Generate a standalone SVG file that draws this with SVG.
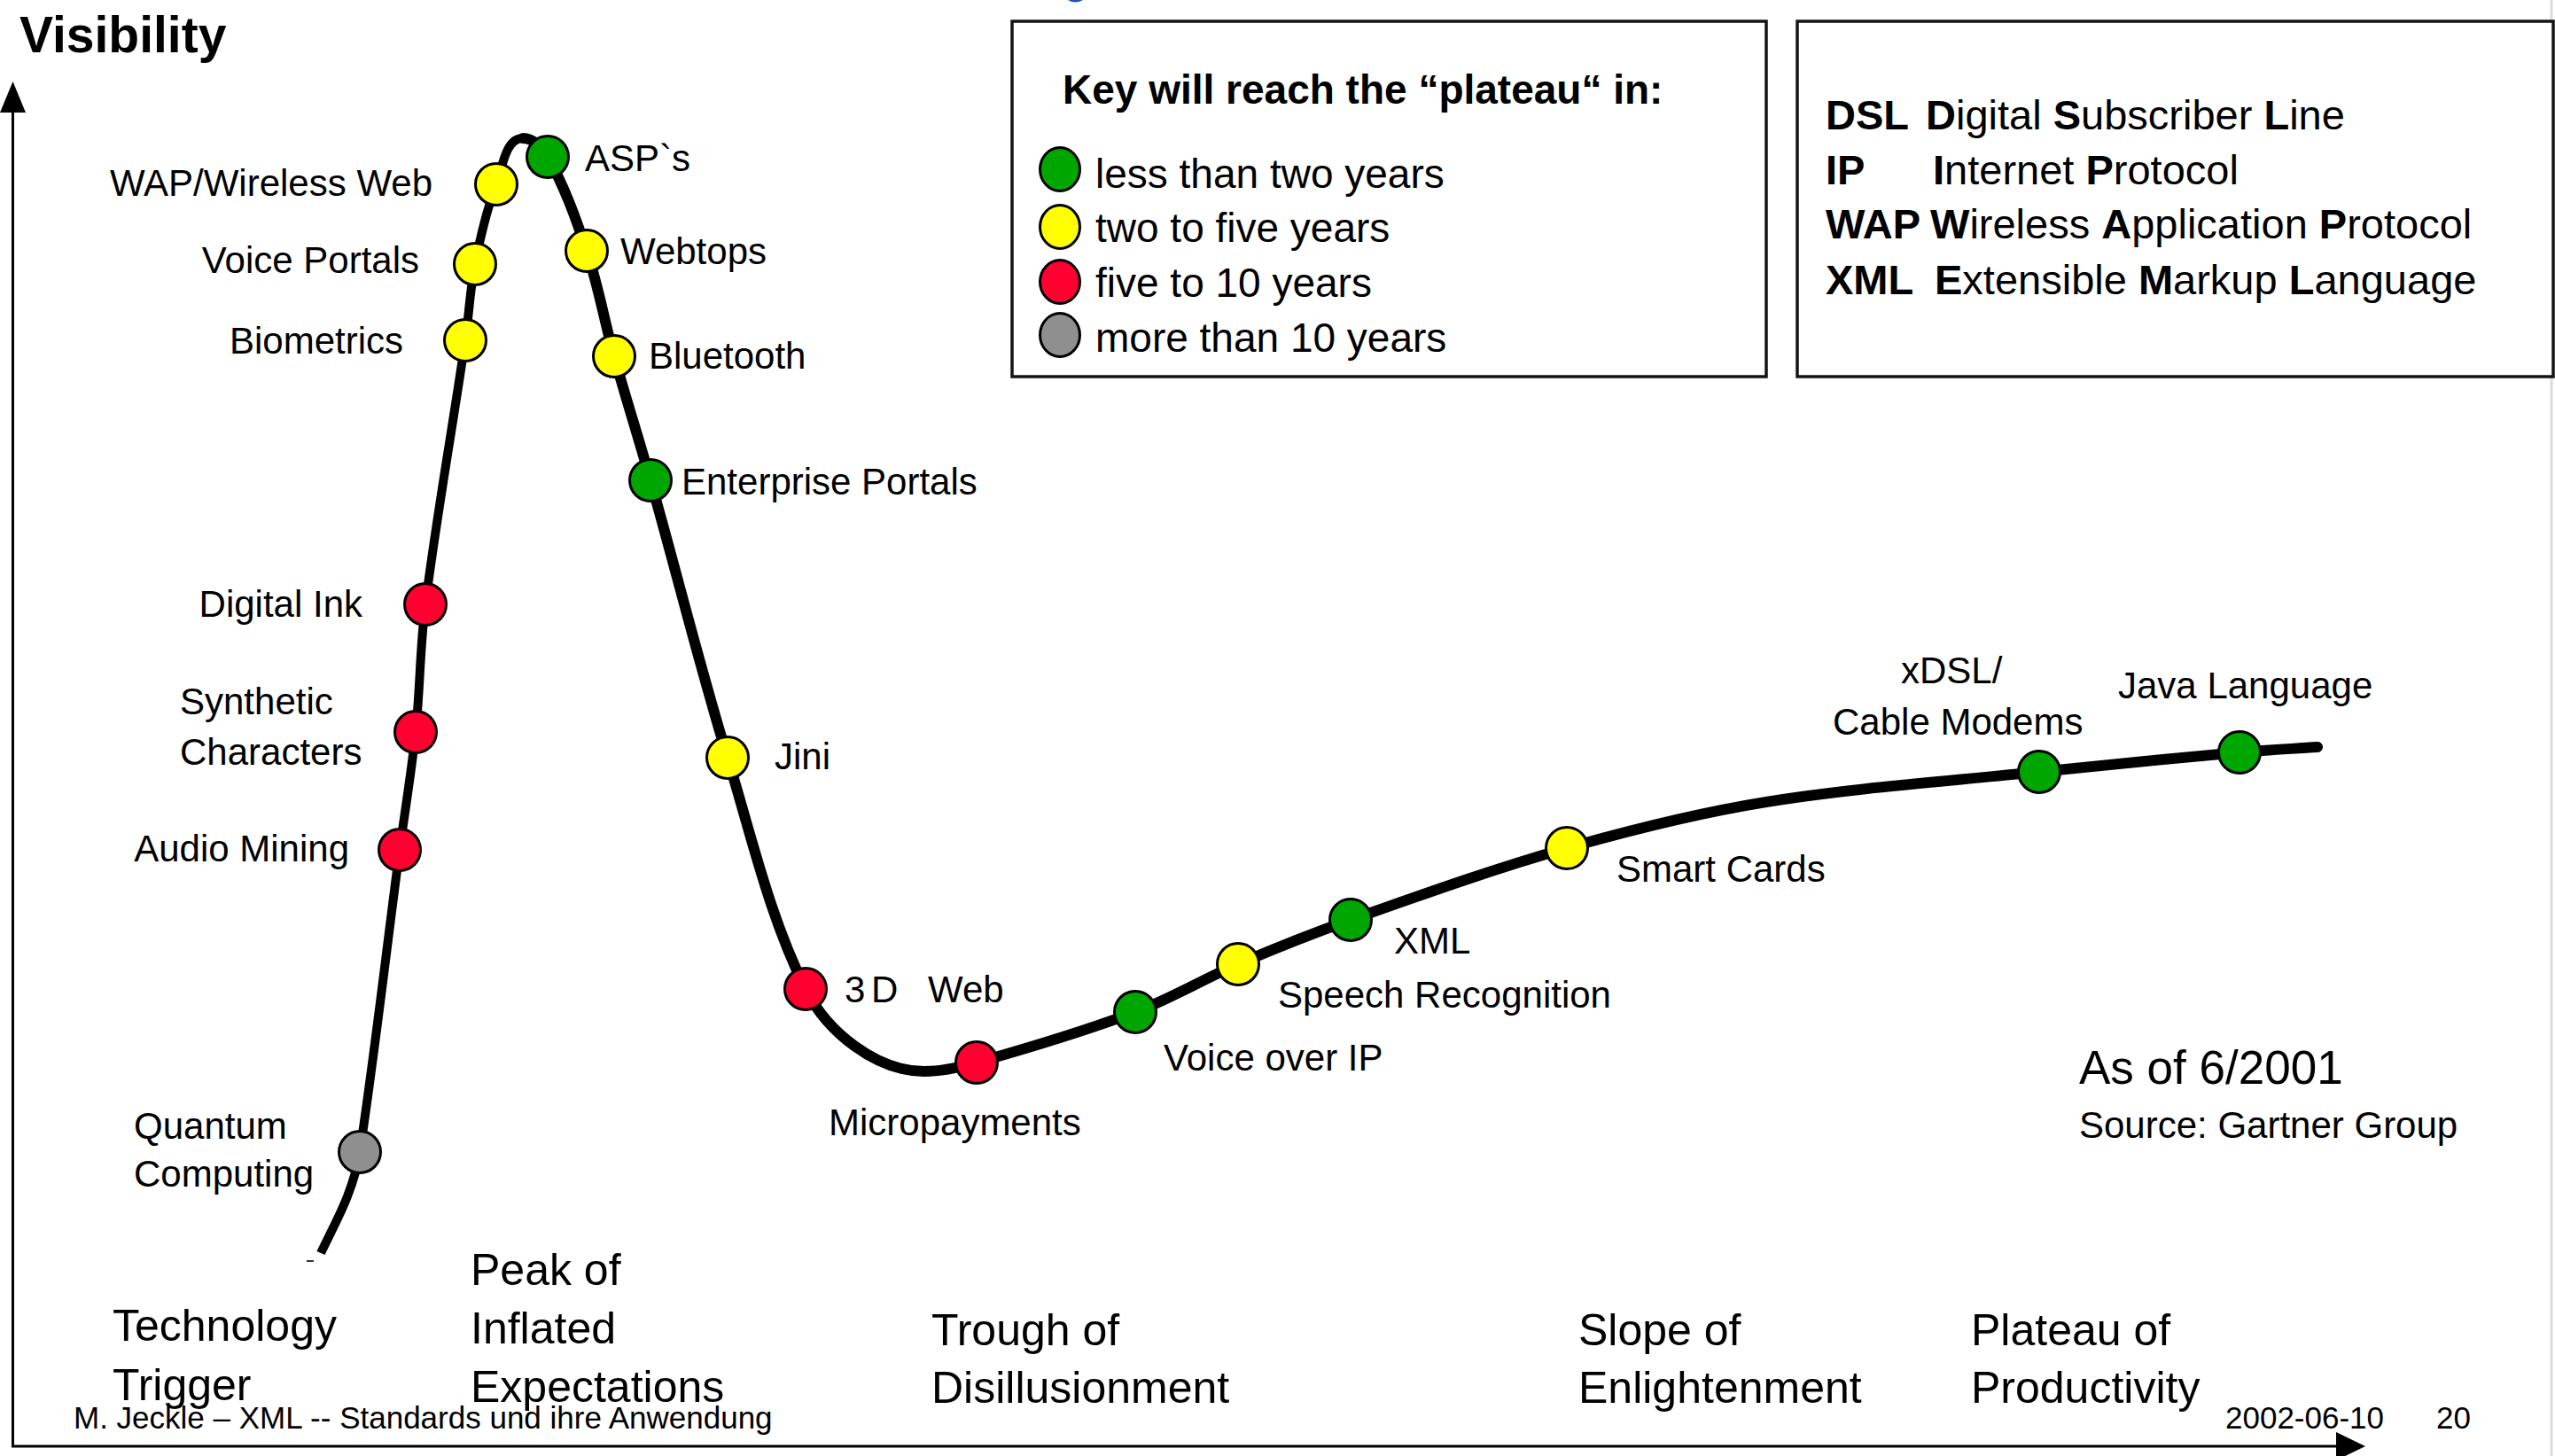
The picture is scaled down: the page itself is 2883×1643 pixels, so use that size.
<svg xmlns="http://www.w3.org/2000/svg" width="2883" height="1643" viewBox="0 0 2883 1643">
  <defs>
    <style>
      text { font-family: "Liberation Sans", Arial, Helvetica, sans-serif; fill: #000; }
      .lbl { font-size: 42px; }
      .stage { font-size: 50px; }
      .key { font-size: 46px; }
      .abbr { font-size: 47px; }
      .foot { font-size: 35px; }
      .b { font-weight: bold; }
      .dot { stroke: #000; stroke-width: 3; }
      .g { fill: #00a600; }
      .y { fill: #ffff00; }
      .r { fill: #ff0030; }
      .n { fill: #8f8f8f; }
      .curve { fill: none; stroke: #000; }
      .box { fill: #fff; stroke: #141414; stroke-width: 3.5; }
      .axis { stroke: #000; stroke-width: 3; fill: none; }
    </style>
  </defs>

  <rect x="0" y="0" width="2883" height="1643" fill="#fff"/>

  <!-- slide edge on the right and a clipped mark at the top -->
  <line x1="2879" y1="0" x2="2879" y2="1643" stroke="#dcdcdc" stroke-width="3"/>
  <path d="M1205 0 Q1213 5 1222 0 Z" fill="#2050c0"/>

  <!-- axis title -->
  <text x="22" y="59" class="b" font-size="57">Visibility</text>

  <!-- legend: colour key -->
  <g id="legend-key">
    <rect class="box" x="1142" y="24" width="851" height="401"/>
    <text x="1199" y="117" class="key b">Key will reach the “plateau“ in:</text>
    <ellipse class="dot g" cx="1196" cy="191" rx="22.5" ry="24.5"/>
    <ellipse class="dot y" cx="1196" cy="256" rx="22.5" ry="24.5"/>
    <ellipse class="dot r" cx="1196" cy="318" rx="22.5" ry="24.5"/>
    <ellipse class="dot n" cx="1196" cy="378" rx="22.5" ry="24.5"/>
    <text x="1236" y="212" class="key">less than two years</text>
    <text x="1236" y="273" class="key">two to five years</text>
    <text x="1236" y="335" class="key">five to 10 years</text>
    <text x="1236" y="397" class="key">more than 10 years</text>
  </g>

  <!-- legend: abbreviations -->
  <g id="legend-abbr">
    <rect class="box" x="2028" y="24" width="853" height="401"/>
    <text x="2060" y="146" class="abbr b">DSL</text>
    <text x="2173" y="146" class="abbr"><tspan class="b">D</tspan>igital <tspan class="b">S</tspan>ubscriber <tspan class="b">L</tspan>ine</text>
    <text x="2060" y="208" class="abbr b">IP</text>
    <text x="2181" y="208" class="abbr"><tspan class="b">I</tspan>nternet <tspan class="b">P</tspan>rotocol</text>
    <text x="2060" y="269" class="abbr b">WAP</text>
    <text x="2178" y="269" class="abbr"><tspan class="b">W</tspan>ireless <tspan class="b">A</tspan>pplication <tspan class="b">P</tspan>rotocol</text>
    <text x="2060" y="332" class="abbr b">XML</text>
    <text x="2183" y="332" class="abbr"><tspan class="b">E</tspan>xtensible <tspan class="b">M</tspan>arkup <tspan class="b">L</tspan>anguage</text>
  </g>

  <!-- axes and hype curve -->
  <g id="connectors">
    <line class="axis" x1="14.5" y1="120" x2="14.5" y2="1633"/>
    <polygon points="14.5,92 29,127 0,127" fill="#000"/>
    <line class="axis" x1="13" y1="1632" x2="2640" y2="1632"/>
    <polygon points="2669,1632 2636,1616 2636,1648" fill="#000"/>
    <path class="curve" stroke-width="10" stroke-linecap="butt"
          d="M 362 1414 C 372 1392.6 383.5 1372 392 1350 C 398.2 1333.9 403.4 1317.1 406 1300 C 423.1 1186.6 435.9 1072.7 451 959 C 456.9 914.7 464.4 870.5 469 826 C 474 778.1 473.9 729.7 480 682 C 492.7 582.3 510.5 483.4 525 384 C 529.2 355.4 530.4 326.4 536 298 C 542 267.6 549 237 560 208 C 567.1 189.3 570 156 590 156"/>
    <path class="curve" stroke-width="12" stroke-linecap="round"
          d="M 590 156 C 601.7 156 612.2 166.8 618 177 C 636.9 210.3 649.9 246.7 662 283 C 675 321.9 682 362.5 693 402 C 706 448.9 720.8 495.2 734 542 C 763.5 646.2 789.4 751.4 821 855 C 847.8 942.9 868 1033.9 909 1116 C 933.3 1164.6 988.6 1209 1043 1209 C 1062.9 1209 1082.9 1204.4 1102 1199 C 1162.2 1182 1222.4 1164 1281 1142 C 1321 1127 1357.8 1104.8 1397 1088 C 1438.8 1070.1 1481.1 1053.2 1524 1038 C 1604.8 1009.5 1685.6 980.4 1768 957 C 1842.1 936 1917 917.2 1993 905 C 2095 888.6 2198.2 881.7 2301 871 C 2376.3 863.1 2451.6 855.7 2527 849 C 2556.3 846.4 2585.7 845 2615 843"/>
    <line x1="346" y1="1423" x2="354" y2="1423" stroke="#333" stroke-width="2"/>
  </g>

  <!-- technologies on the curve -->
  <g id="n-quantum"><circle class="dot n" cx="406" cy="1300" r="23.5"/><text class="lbl" x="151" y="1285">Quantum</text><text class="lbl" x="151" y="1339">Computing</text></g>
  <g id="n-audio"><circle class="dot r" cx="451" cy="959" r="23.5"/><text class="lbl" x="394" y="972" text-anchor="end">Audio Mining</text></g>
  <g id="n-synthetic"><circle class="dot r" cx="469" cy="826" r="23.5"/><text class="lbl" x="203" y="806">Synthetic</text><text class="lbl" x="203" y="863">Characters</text></g>
  <g id="n-digitalink"><circle class="dot r" cx="480" cy="682" r="23.5"/><text class="lbl" x="409" y="696" text-anchor="end">Digital Ink</text></g>
  <g id="n-biometrics"><circle class="dot y" cx="525" cy="384" r="23.5"/><text class="lbl" x="455" y="399" text-anchor="end">Biometrics</text></g>
  <g id="n-voiceportals"><circle class="dot y" cx="536" cy="298" r="23.5"/><text class="lbl" x="473" y="308" text-anchor="end">Voice Portals</text></g>
  <g id="n-wap"><circle class="dot y" cx="560" cy="208" r="23.5"/><text class="lbl" x="488" y="221" text-anchor="end">WAP/Wireless Web</text></g>
  <g id="n-asp"><circle class="dot g" cx="618" cy="177" r="23.5"/><text class="lbl" x="660" y="193">ASP`s</text></g>
  <g id="n-webtops"><circle class="dot y" cx="662" cy="283" r="23.5"/><text class="lbl" x="700" y="298">Webtops</text></g>
  <g id="n-bluetooth"><circle class="dot y" cx="693" cy="402" r="23.5"/><text class="lbl" x="732" y="416">Bluetooth</text></g>
  <g id="n-portals"><circle class="dot g" cx="734" cy="542" r="23.5"/><text class="lbl" x="769" y="558">Enterprise Portals</text></g>
  <g id="n-jini"><circle class="dot y" cx="821" cy="855" r="23.5"/><text class="lbl" x="874" y="868">Jini</text></g>
  <g id="n-3dweb"><circle class="dot r" cx="909" cy="1116" r="23.5"/><text class="lbl" y="1131"><tspan x="953">3</tspan><tspan x="983">D</tspan><tspan x="1047">Web</tspan></text></g>
  <g id="n-micropayments"><circle class="dot r" cx="1102" cy="1199" r="23.5"/><text class="lbl" x="935" y="1281">Micropayments</text></g>
  <g id="n-voip"><circle class="dot g" cx="1281" cy="1142" r="23.5"/><text class="lbl" x="1313" y="1208">Voice over IP</text></g>
  <g id="n-speech"><circle class="dot y" cx="1397" cy="1088" r="23.5"/><text class="lbl" x="1442" y="1137">Speech Recognition</text></g>
  <g id="n-xml"><circle class="dot g" cx="1524" cy="1038" r="23.5"/><text class="lbl" x="1573" y="1076">XML</text></g>
  <g id="n-smartcards"><circle class="dot y" cx="1768" cy="957" r="23.5"/><text class="lbl" x="1824" y="995">Smart Cards</text></g>
  <g id="n-xdsl"><circle class="dot g" cx="2301" cy="871" r="23.5"/><text class="lbl" x="2145" y="771">xDSL/</text><text class="lbl" x="2068" y="829">Cable Modems</text></g>
  <g id="n-java"><circle class="dot g" cx="2527" cy="849" r="23.5"/><text class="lbl" x="2390" y="788">Java Language</text></g>

  <!-- date and source -->
  <g id="source">
    <text x="2346" y="1223" font-size="53">As of 6/2001</text>
    <text class="lbl" x="2346" y="1284">Source: Gartner Group</text>
  </g>

  <!-- phases along the time axis -->
  <g id="phases">
    <text class="stage" x="127" y="1513">Technology</text>
    <text class="stage" x="127" y="1580">Trigger</text>
    <text class="stage" x="531" y="1450">Peak of</text>
    <text class="stage" x="531" y="1516">Inflated</text>
    <text class="stage" x="531" y="1582">Expectations</text>
    <text class="stage" x="1051" y="1518">Trough of</text>
    <text class="stage" x="1051" y="1583">Disillusionment</text>
    <text class="stage" x="1781" y="1518">Slope of</text>
    <text class="stage" x="1781" y="1583">Enlightenment</text>
    <text class="stage" x="2224" y="1518">Plateau of</text>
    <text class="stage" x="2224" y="1583">Productivity</text>
  </g>

  <!-- footer -->
  <g id="footer">
    <text class="foot" x="83" y="1612">M. Jeckle – XML -- Standards und ihre Anwendung</text>
    <text class="foot" x="2511" y="1612" font-size="36">2002-06-10</text>
    <text class="foot" x="2749" y="1612" font-size="36">20</text>
  </g>
</svg>
